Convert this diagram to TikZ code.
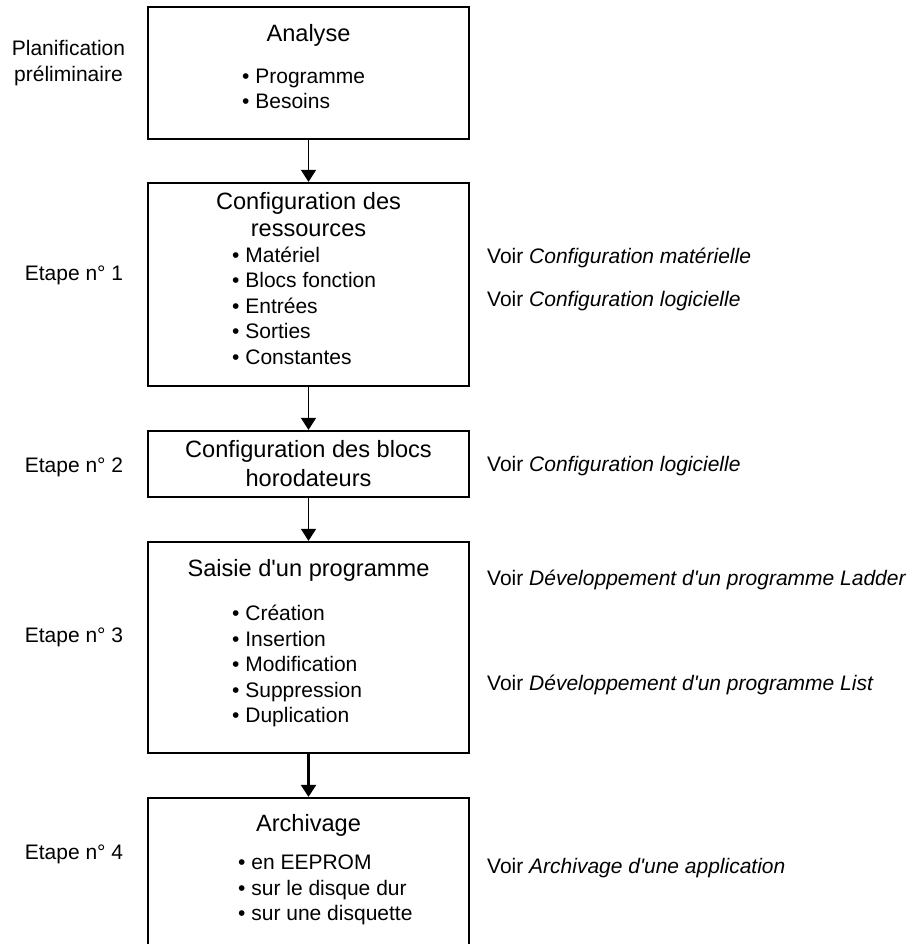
\documentclass[tikz,border=0pt]{standalone}
\usepackage{fontspec}
\newfontfamily\lsans{Liberation Sans}
\usetikzlibrary{arrows.meta}
\tikzset{
  stage/.style={draw, line width=2.2pt, minimum width=321pt, inner sep=0pt},
  flow/.style={line width=1.3pt, -{Triangle[width=15pt,length=12pt]}},
  flowbold/.style={line width=2.2pt, -{Triangle[width=15pt,length=12pt]}},
  ttl/.style={font=\lsans\fontsize{23.6}{28}\selectfont, inner sep=0pt, anchor=base},
  item/.style={font=\lsans\fontsize{21}{25}\selectfont, inner sep=0pt, anchor=base west},
  side/.style={font=\lsans\fontsize{21}{25}\selectfont, inner sep=0pt, anchor=base},
}
\begin{document}
\begin{tikzpicture}[x=1pt,y=-1pt]
\useasboundingbox (0,0) rectangle (923,944);
\clip (0,0) rectangle (923,944);

% stage boxes
\node[stage, minimum height=132pt] (s1) at (308.5,73) {};
\node[stage, minimum height=203pt] (s2) at (308.5,284.5) {};
\node[stage, minimum height=66pt]  (s3) at (308.5,464) {};
\node[stage, minimum height=211pt] (s4) at (308.5,647.5) {};
\node[stage, minimum height=170pt] (s5) at (308.5,883) {};

% connectors
\draw[flow] (s1.south) -- (s2.north);
\draw[flow] (s2.south) -- (s3.north);
\draw[flow] (s3.south) -- (s4.north);
\draw[flowbold] (s4.south) -- (s5.north);

% stage 0
\node[ttl] (t1) at (308.5,42) {Analyse};
\node[item] (i11) at (242,84) {• Programme};
\node[item] (i12) at (242,109) {• Besoins};
\node[side] (p1) at (68.5,56) {Planification};
\node[side] (p2) at (68.5,82) {préliminaire};

% stage 1
\node[ttl] (t2a) at (308.5,209) {Configuration des};
\node[ttl] (t2b) at (308.5,236) {ressources};
\node[item] (i21) at (232,262) {• Matériel};
\node[item] (i22) at (232,287) {• Blocs fonction};
\node[item] (i23) at (232,313) {• Entrées};
\node[item] (i24) at (232,338) {• Sorties};
\node[item] (i25) at (232,364) {• Constantes};
\node[side] (e1) at (74,280) {Etape n° 1};
\node[item] (v1) at (487,263) {Voir \textit{Configuration matérielle}};
\node[item] (v2) at (487,306) {Voir \textit{Configuration logicielle}};

% stage 2
\node[ttl] (t3a) at (308.5,457) {Configuration des blocs};
\node[ttl] (t3b) at (308.5,486) {horodateurs};
\node[side] (e2) at (74,472) {Etape n° 2};
\node[item] (v3) at (487,471) {Voir \textit{Configuration logicielle}};

% stage 3
\node[ttl] (t4) at (308.5,576) {Saisie d'un programme};
\node[item] (i41) at (232,620) {• Création};
\node[item] (i42) at (232,646) {• Insertion};
\node[item] (i43) at (232,671) {• Modification};
\node[item] (i44) at (232,697) {• Suppression};
\node[item] (i45) at (232,722) {• Duplication};
\node[side] (e3) at (74,642) {Etape n° 3};
\node[item] (v4) at (487,585) {Voir \textit{Développement d'un programme Ladder}};
\node[item] (v5) at (487,690) {Voir \textit{Développement d'un programme List}};

% stage 4
\node[ttl] (t5) at (308.5,831) {Archivage};
\node[item] (i51) at (238,869) {• en EEPROM};
\node[item] (i52) at (238,895) {• sur le disque dur};
\node[item] (i53) at (238,920) {• sur une disquette};
\node[side] (e4) at (74,859) {Etape n° 4};
\node[item] (v6) at (487,873) {Voir \textit{Archivage d'une application}};
\end{tikzpicture}
\end{document}
